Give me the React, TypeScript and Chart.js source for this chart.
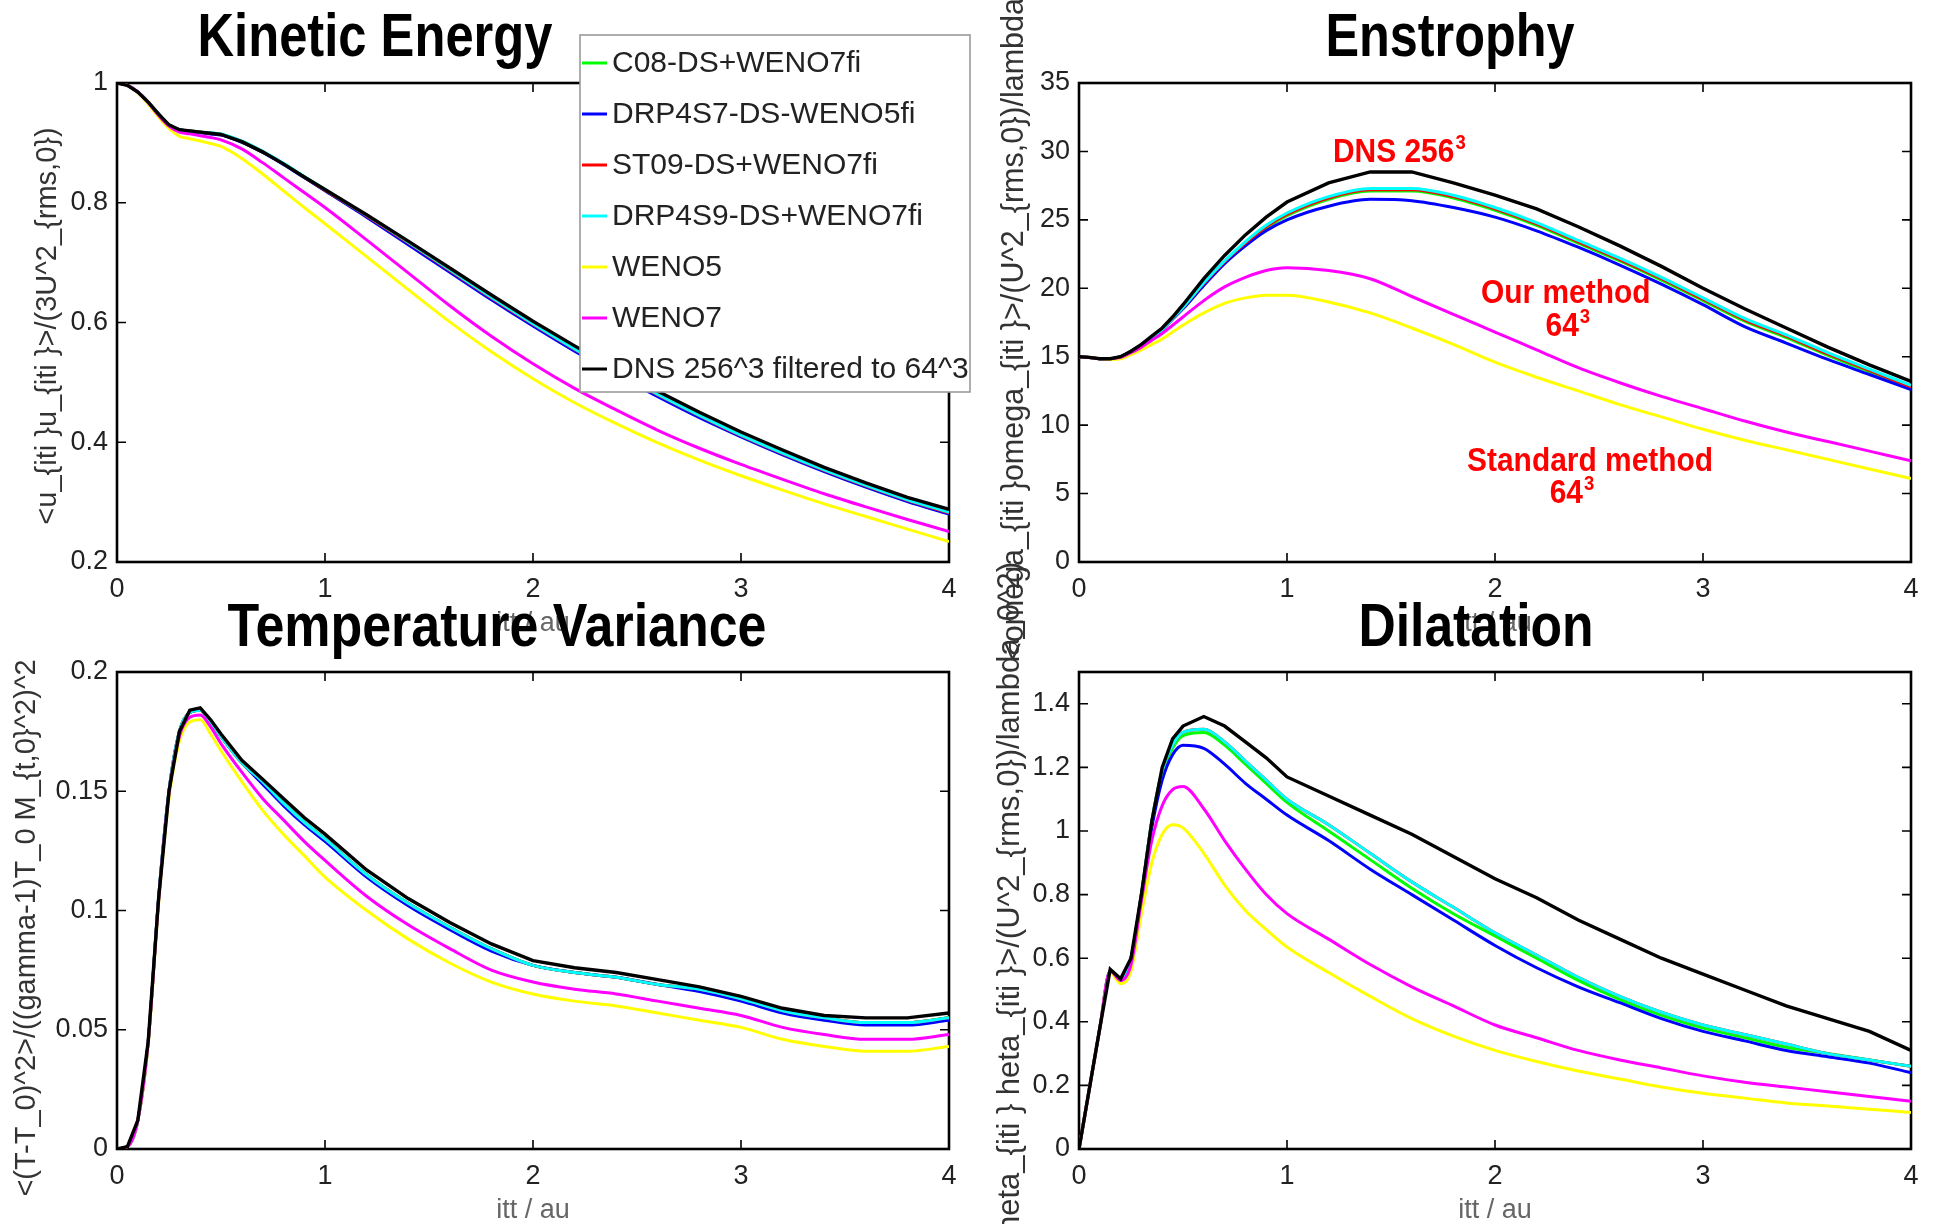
import React, { useEffect, useRef } from "react";
import { Chart, registerables } from "chart.js";

Chart.register(...registerables);

const PAGE_W = 1933;
const PAGE_H = 1224;

// ---------- shared data ----------
const times = [0, 0.05, 0.1, 0.15, 0.2, 0.25, 0.3, 0.35, 0.4, 0.45, 0.5, 0.6, 0.7, 0.8, 0.9, 1.0, 1.2, 1.4, 1.6, 1.8, 2.0, 2.2, 2.4, 2.6, 2.8, 3.0, 3.2, 3.4, 3.6, 3.8, 4.0];
const xTicks = [0, 1, 2, 3, 4];
const seriesNames = ["C08-DS+WENO7fi", "DRP4S7-DS-WENO5fi", "ST09-DS+WENO7fi", "DRP4S9-DS+WENO7fi", "WENO5", "WENO7", "DNS 256^3 filtered to 64^3"];

// ---------- Kinetic energy ----------
const keYTicks = [0.2, 0.4, 0.6, 0.8, 1];
const keC08 = [1.0, 0.996, 0.985, 0.968, 0.948, 0.93, 0.922, 0.92, 0.918, 0.916, 0.914, 0.902, 0.885, 0.865, 0.843, 0.821, 0.777, 0.732, 0.686, 0.64, 0.596, 0.554, 0.515, 0.478, 0.443, 0.41, 0.38, 0.352, 0.326, 0.302, 0.281];
const keDRP7 = [1.0, 0.996, 0.985, 0.968, 0.948, 0.93, 0.922, 0.919, 0.917, 0.915, 0.913, 0.901, 0.884, 0.864, 0.842, 0.82, 0.776, 0.73, 0.684, 0.638, 0.594, 0.552, 0.513, 0.476, 0.441, 0.409, 0.379, 0.351, 0.325, 0.301, 0.28];
const keST09 = [1.0, 0.996, 0.985, 0.968, 0.948, 0.93, 0.922, 0.92, 0.918, 0.916, 0.914, 0.902, 0.885, 0.865, 0.843, 0.821, 0.778, 0.733, 0.687, 0.641, 0.597, 0.555, 0.516, 0.479, 0.444, 0.411, 0.381, 0.353, 0.327, 0.303, 0.282];
const keDRP9 = [1.0, 0.996, 0.985, 0.968, 0.948, 0.93, 0.922, 0.92, 0.918, 0.917, 0.915, 0.903, 0.886, 0.866, 0.844, 0.822, 0.779, 0.734, 0.688, 0.642, 0.598, 0.556, 0.517, 0.48, 0.445, 0.412, 0.382, 0.354, 0.328, 0.304, 0.283];
const keW5 = [1.0, 0.996, 0.984, 0.965, 0.943, 0.924, 0.911, 0.907, 0.903, 0.899, 0.894, 0.874, 0.848, 0.82, 0.792, 0.765, 0.71, 0.655, 0.601, 0.551, 0.506, 0.466, 0.431, 0.399, 0.37, 0.344, 0.32, 0.297, 0.276, 0.255, 0.234];
const keW7 = [1.0, 0.996, 0.985, 0.967, 0.946, 0.928, 0.918, 0.915, 0.912, 0.909, 0.905, 0.89, 0.867, 0.842, 0.817, 0.792, 0.738, 0.683, 0.628, 0.577, 0.531, 0.49, 0.454, 0.42, 0.39, 0.363, 0.338, 0.314, 0.292, 0.271, 0.251];
const keDNS = [1.0, 0.996, 0.985, 0.968, 0.948, 0.93, 0.922, 0.92, 0.918, 0.916, 0.914, 0.902, 0.885, 0.865, 0.843, 0.822, 0.78, 0.736, 0.691, 0.646, 0.602, 0.561, 0.522, 0.485, 0.45, 0.417, 0.387, 0.358, 0.332, 0.308, 0.288];

// ---------- Enstrophy ----------
const enYTicks = [0, 5, 10, 15, 20, 25, 30, 35];
const enC08 = [15.0, 14.95, 14.85, 14.85, 15.0, 15.4, 15.85, 16.4, 17.0, 17.8, 18.6, 20.3, 21.9, 23.2, 24.4, 25.3, 26.5, 27.1, 27.1, 26.6, 25.7, 24.6, 23.3, 22.0, 20.6, 19.1, 17.6, 16.4, 15.1, 13.9, 12.8];
const enDRP7 = [15.0, 14.95, 14.85, 14.85, 15.0, 15.4, 15.85, 16.4, 17.0, 17.75, 18.5, 20.2, 21.8, 23.1, 24.2, 25.0, 26.0, 26.5, 26.4, 25.9, 25.2, 24.2, 23.0, 21.7, 20.3, 18.8, 17.2, 16.0, 14.8, 13.7, 12.6];
const enST09 = [15.0, 14.95, 14.85, 14.85, 15.0, 15.4, 15.85, 16.4, 17.0, 17.8, 18.6, 20.35, 21.95, 23.3, 24.5, 25.4, 26.6, 27.2, 27.2, 26.7, 25.8, 24.7, 23.4, 22.1, 20.7, 19.2, 17.7, 16.5, 15.2, 14.0, 12.8];
const enDRP9 = [15.0, 14.95, 14.85, 14.85, 15.0, 15.4, 15.85, 16.4, 17.0, 17.8, 18.6, 20.4, 22.0, 23.4, 24.6, 25.5, 26.7, 27.3, 27.3, 26.8, 25.9, 24.8, 23.5, 22.2, 20.8, 19.3, 17.8, 16.6, 15.3, 14.1, 12.9];
const enW5 = [15.0, 14.95, 14.85, 14.8, 14.85, 15.15, 15.5, 15.9, 16.3, 16.8, 17.3, 18.2, 18.9, 19.3, 19.5, 19.5, 19.0, 18.2, 17.1, 15.9, 14.6, 13.5, 12.5, 11.5, 10.6, 9.7, 8.9, 8.2, 7.5, 6.8, 6.1];
const enW7 = [15.0, 14.95, 14.85, 14.85, 14.95, 15.3, 15.7, 16.2, 16.7, 17.3, 17.9, 19.1, 20.1, 20.8, 21.3, 21.5, 21.3, 20.7, 19.4, 18.1, 16.8, 15.5, 14.2, 13.1, 12.1, 11.2, 10.3, 9.5, 8.8, 8.1, 7.4];
const enDNS = [15.0, 14.95, 14.85, 14.85, 15.0, 15.4, 15.9, 16.5, 17.1, 17.9, 18.8, 20.7, 22.4, 23.9, 25.2, 26.3, 27.7, 28.5, 28.5, 27.7, 26.8, 25.8, 24.5, 23.1, 21.6, 20.0, 18.5, 17.1, 15.7, 14.4, 13.2];

// ---------- Temperature variance ----------
const tvYTicks = [0, 0.05, 0.1, 0.15, 0.2];
const tvC08 = [0, 0.001, 0.012, 0.045, 0.105, 0.15, 0.175, 0.183, 0.184, 0.179, 0.173, 0.162, 0.154, 0.145, 0.137, 0.13, 0.115, 0.103, 0.093, 0.084, 0.077, 0.074, 0.072, 0.069, 0.067, 0.063, 0.058, 0.055, 0.053, 0.053, 0.055];
const tvDRP7 = [0, 0.001, 0.012, 0.045, 0.105, 0.15, 0.175, 0.183, 0.184, 0.179, 0.173, 0.162, 0.153, 0.144, 0.136, 0.129, 0.114, 0.102, 0.092, 0.083, 0.077, 0.074, 0.072, 0.069, 0.066, 0.062, 0.057, 0.054, 0.052, 0.052, 0.054];
const tvST09 = [0, 0.001, 0.012, 0.045, 0.105, 0.15, 0.175, 0.183, 0.184, 0.179, 0.173, 0.162, 0.154, 0.145, 0.137, 0.13, 0.115, 0.103, 0.093, 0.084, 0.077, 0.074, 0.072, 0.069, 0.067, 0.063, 0.058, 0.055, 0.053, 0.053, 0.055];
const tvDRP9 = [0, 0.001, 0.012, 0.045, 0.105, 0.15, 0.175, 0.183, 0.184, 0.179, 0.173, 0.162, 0.154, 0.145, 0.137, 0.13, 0.115, 0.103, 0.093, 0.084, 0.077, 0.074, 0.072, 0.069, 0.067, 0.063, 0.058, 0.055, 0.053, 0.053, 0.055];
const tvW5 = [0, 0.001, 0.012, 0.044, 0.103, 0.147, 0.171, 0.179, 0.18, 0.174, 0.167, 0.154, 0.142, 0.132, 0.123, 0.114, 0.1, 0.088, 0.078, 0.07, 0.065, 0.062, 0.06, 0.057, 0.054, 0.051, 0.046, 0.043, 0.041, 0.041, 0.043];
const tvW7 = [0, 0.001, 0.012, 0.045, 0.104, 0.149, 0.173, 0.181, 0.182, 0.177, 0.17, 0.158, 0.147, 0.138, 0.129, 0.121, 0.106, 0.094, 0.084, 0.075, 0.07, 0.067, 0.065, 0.062, 0.059, 0.056, 0.051, 0.048, 0.046, 0.046, 0.048];
const tvDNS = [0, 0.001, 0.012, 0.045, 0.105, 0.15, 0.175, 0.184, 0.185, 0.18, 0.174, 0.163, 0.155, 0.147, 0.139, 0.132, 0.117, 0.105, 0.095, 0.086, 0.079, 0.076, 0.074, 0.071, 0.068, 0.064, 0.059, 0.056, 0.055, 0.055, 0.057];

// ---------- Dilatation ----------
const dlYTicks = [0, 0.2, 0.4, 0.6, 0.8, 1, 1.2, 1.4];
const dlC08 = [0, 0.19, 0.38, 0.56, 0.53, 0.6, 0.8, 1.03, 1.18, 1.26, 1.3, 1.31, 1.27, 1.21, 1.15, 1.09, 1.0, 0.91, 0.82, 0.74, 0.67, 0.6, 0.53, 0.47, 0.42, 0.38, 0.35, 0.32, 0.3, 0.28, 0.26];
const dlDRP7 = [0, 0.19, 0.38, 0.56, 0.53, 0.6, 0.8, 1.01, 1.16, 1.24, 1.27, 1.26, 1.21, 1.15, 1.1, 1.05, 0.97, 0.88, 0.8, 0.72, 0.64, 0.57, 0.51, 0.46, 0.41, 0.37, 0.34, 0.31, 0.29, 0.27, 0.24];
const dlST09 = [0, 0.19, 0.38, 0.56, 0.53, 0.6, 0.8, 1.03, 1.19, 1.27, 1.31, 1.32, 1.28, 1.22, 1.16, 1.1, 1.02, 0.93, 0.84, 0.76, 0.68, 0.61, 0.54, 0.48, 0.43, 0.39, 0.36, 0.33, 0.3, 0.28, 0.26];
const dlDRP9 = [0, 0.19, 0.38, 0.56, 0.53, 0.6, 0.8, 1.03, 1.19, 1.27, 1.31, 1.32, 1.28, 1.22, 1.16, 1.1, 1.02, 0.93, 0.84, 0.76, 0.68, 0.61, 0.54, 0.48, 0.43, 0.39, 0.36, 0.33, 0.3, 0.28, 0.26];
const dlW5 = [0, 0.19, 0.38, 0.555, 0.52, 0.56, 0.74, 0.9, 0.99, 1.02, 1.01, 0.93, 0.83, 0.75, 0.69, 0.635, 0.555, 0.48, 0.41, 0.355, 0.31, 0.275, 0.245, 0.22, 0.195, 0.175, 0.16, 0.145, 0.135, 0.125, 0.115];
const dlW7 = [0, 0.19, 0.38, 0.56, 0.53, 0.58, 0.78, 0.97, 1.08, 1.13, 1.14, 1.07, 0.97, 0.88, 0.8, 0.74, 0.66, 0.58, 0.51, 0.45, 0.39, 0.35, 0.31, 0.28, 0.255, 0.23, 0.21, 0.195, 0.18, 0.165, 0.15];
const dlDNS = [0, 0.19, 0.38, 0.565, 0.535, 0.6, 0.8, 1.03, 1.2, 1.29, 1.33, 1.36, 1.33, 1.28, 1.23, 1.17, 1.11, 1.05, 0.99, 0.92, 0.85, 0.79, 0.72, 0.66, 0.6, 0.55, 0.5, 0.45, 0.41, 0.37, 0.31];

// ---------- styles ----------
const seriesColors = ["#00ff00", "#0000ff", "#ff0000", "#00ffff", "#ffff00", "#ff00ff", "#000000"];
const FONT = '"Liberation Sans", Arial, Helvetica, sans-serif';
const Y_AXIS_W = 80;
const X_AXIS_H = 60;
const TICK_LEN = 9;

type Annot = { base: string; sup?: string; t: number; v: number };

type Panel = {
  key: string;
  title: string;
  titleAt: [number, number, number];
  box: [number, number, number, number];
  yMin: number;
  yMax: number;
  yTicks: number[];
  series: number[][];
  yLabel: string;
  yLabelAt: [number, number, CanvasTextAlign, number];
  legend?: boolean;
  annots?: Annot[];
};

const panels: Panel[] = [
  {
    key: "ke",
    title: "Kinetic Energy",
    titleAt: [375, 56, 355],
    box: [117, 83, 949, 562],
    yMin: 0.2,
    yMax: 1,
    yTicks: keYTicks,
    series: [keC08, keDRP7, keST09, keDRP9, keW5, keW7, keDNS],
    yLabel: "<u_{iti }u_{iti }>/(3U^2_{rms,0})",
    yLabelAt: [48, 326, "center", 29],
    legend: true,
  },
  {
    key: "en",
    title: "Enstrophy",
    titleAt: [1450, 56, 249],
    box: [1079, 83, 1911, 562],
    yMin: 0,
    yMax: 35,
    yTicks: enYTicks,
    series: [enC08, enDRP7, enST09, enDRP9, enW5, enW7, enDNS],
    yLabel: "<omega_{iti }omega_{iti }>/(U^2_{rms,0})/lambda_0^2)",
    yLabelAt: [1015, 660, "left", 30.5],
    annots: [
      { base: "DNS 256", sup: "3", t: 1.54, v: 29.26 },
      { base: "Our method", t: 2.34, v: 18.9 },
      { base: "64", sup: "3", t: 2.35, v: 16.5 },
      { base: "Standard method", t: 2.457, v: 6.65 },
      { base: "64", sup: "3", t: 2.37, v: 4.31 },
    ],
  },
  {
    key: "tv",
    title: "Temperature Variance",
    titleAt: [497, 646, 539],
    box: [117, 672, 949, 1149],
    yMin: 0,
    yMax: 0.2,
    yTicks: tvYTicks,
    series: [tvC08, tvDRP7, tvST09, tvDRP9, tvW5, tvW7, tvDNS],
    yLabel: "<(T-T_0)^2>/((gamma-1)T_0 M_{t,0}^2)^2",
    yLabelAt: [27, 928, "center", 29],
  },
  {
    key: "dl",
    title: "Dilatation",
    titleAt: [1476, 646, 235],
    box: [1079, 672, 1911, 1149],
    yMin: 0,
    yMax: 1.5,
    yTicks: dlYTicks,
    series: [dlC08, dlDRP7, dlST09, dlDRP9, dlW5, dlW7, dlDNS],
    yLabel: "heta_{iti } heta_{iti }>/(U^2_{rms,0})/lambda_0^2)",
    yLabelAt: [1010, 562, "right", 31],
  },
];

function vText(ctx: CanvasRenderingContext2D, text: string, x: number, y: number, align: CanvasTextAlign) {
  ctx.save();
  ctx.translate(x, y);
  ctx.rotate(-Math.PI / 2);
  ctx.textAlign = align;
  ctx.textBaseline = "middle";
  ctx.fillText(text, 0, 0);
  ctx.restore();
}

// draw condensed bold text: width squeezed horizontally by factor sx, anchored at left x0
function squeezed(ctx: CanvasRenderingContext2D, text: string, x0: number, y: number, sx: number) {
  ctx.save();
  ctx.translate(x0, y);
  ctx.scale(sx, 1);
  ctx.textAlign = "left";
  ctx.fillText(text, 0, 0);
  ctx.restore();
}

function makeDecor(p: Panel) {
  return {
    id: "decor_" + p.key,
    beforeDatasetsDraw(chart: any) {
      const { ctx, chartArea: a, scales } = chart;
      const xs = scales.x;
      const ys = scales.y;
      ctx.save();
      ctx.strokeStyle = "#000";
      ctx.lineWidth = 1.6;
      ctx.beginPath();
      xs.ticks.forEach((tk: any) => {
        const px = xs.getPixelForValue(tk.value);
        ctx.moveTo(px, a.bottom);
        ctx.lineTo(px, a.bottom - TICK_LEN);
        ctx.moveTo(px, a.top);
        ctx.lineTo(px, a.top + TICK_LEN);
      });
      ys.ticks.forEach((tk: any) => {
        const py = ys.getPixelForValue(tk.value);
        ctx.moveTo(a.left, py);
        ctx.lineTo(a.left + TICK_LEN, py);
        ctx.moveTo(a.right, py);
        ctx.lineTo(a.right - TICK_LEN, py);
      });
      ctx.stroke();
      ctx.lineWidth = 2.6;
      ctx.strokeRect(a.left, a.top, a.right - a.left, a.bottom - a.top);
      ctx.restore();
    },
    afterDraw(chart: any) {
      const { ctx, chartArea: a, scales } = chart;
      ctx.save();
      // axis titles
      ctx.fillStyle = "#666";
      ctx.font = `27px ${FONT}`;
      ctx.textAlign = "center";
      ctx.textBaseline = "middle";
      ctx.fillText("itt / au", (a.left + a.right) / 2, a.bottom + 62);
      ctx.fillStyle = "#333";
      ctx.font = `${p.yLabelAt[3]}px ${FONT}`;
      vText(ctx, p.yLabel, p.yLabelAt[0], p.yLabelAt[1], p.yLabelAt[2]);

      // annotations
      if (p.annots) {
        ctx.fillStyle = "#ff0000";
        ctx.textBaseline = "alphabetic";
        const big = 34;
        const small = 21;
        const sx = 0.88;
        p.annots.forEach((an) => {
          const cx = scales.x.getPixelForValue(an.t);
          const by = scales.y.getPixelForValue(an.v);
          ctx.font = `bold ${big}px ${FONT}`;
          const wb = ctx.measureText(an.base).width * sx;
          let ws = 0;
          if (an.sup) {
            ctx.font = `bold ${small}px ${FONT}`;
            ws = ctx.measureText(an.sup).width * sx + 1;
          }
          const x0 = cx - (wb + ws) / 2;
          ctx.font = `bold ${big}px ${FONT}`;
          squeezed(ctx, an.base, x0, by, sx);
          if (an.sup) {
            ctx.font = `bold ${small}px ${FONT}`;
            squeezed(ctx, an.sup, x0 + wb + 1, by - big * 0.38, sx);
          }
        });
      }

      // panel title
      ctx.fillStyle = "#000";
      ctx.font = `bold 62px ${FONT}`;
      ctx.textBaseline = "alphabetic";
      const tw = ctx.measureText(p.title).width;
      const tsx = p.titleAt[2] / tw;
      squeezed(ctx, p.title, p.titleAt[0] - p.titleAt[2] / 2, p.titleAt[1], tsx);

      // legend
      if (p.legend) {
        const lx = 580, ly = 35, lw = 390, lh = 357;
        ctx.fillStyle = "#fff";
        ctx.fillRect(lx, ly, lw, lh);
        ctx.strokeStyle = "#9a9a9a";
        ctx.lineWidth = 1.6;
        ctx.strokeRect(lx, ly, lw, lh);
        ctx.font = `30px ${FONT}`;
        ctx.textAlign = "left";
        ctx.textBaseline = "middle";
        chart.data.datasets.forEach((ds: any, i: number) => {
          const yy = 63 + i * 51;
          ctx.strokeStyle = ds.borderColor;
          ctx.lineWidth = 3;
          ctx.beginPath();
          ctx.moveTo(582, yy);
          ctx.lineTo(607, yy);
          ctx.stroke();
          ctx.fillStyle = "#222";
          ctx.fillText(ds.label, 612, yy + 1);
        });
      }
      ctx.restore();
    },
  };
}

function buildConfig(p: Panel): any {
  const [l, t, r, b] = p.box;
  return {
    type: "line",
    data: {
      datasets: p.series.map((vals, i) => ({
        label: seriesNames[i],
        data: times.map((tt, k) => ({ x: tt, y: vals[k] })),
        borderColor: seriesColors[i],
        backgroundColor: seriesColors[i],
        borderWidth: i === 6 ? 3.4 : 3,
        pointRadius: 0,
        fill: false,
        tension: 0,
        cubicInterpolationMode: i === 6 ? "default" : "monotone",
        order: 7 - i,
      })),
    },
    options: {
      responsive: false,
      animation: false,
      events: [],
      layout: { padding: { left: l - Y_AXIS_W, top: t, right: PAGE_W - r, bottom: PAGE_H - b - X_AXIS_H } },
      plugins: { legend: { display: false }, tooltip: { enabled: false }, title: { display: false } },
      scales: {
        x: {
          type: "linear",
          min: 0,
          max: 4,
          afterBuildTicks: (s: any) => {
            s.ticks = xTicks.map((v) => ({ value: v }));
          },
          afterFit: (s: any) => {
            s.height = X_AXIS_H;
          },
          grid: { display: false, drawTicks: false },
          border: { display: false },
          ticks: {
            padding: 11,
            color: "#222",
            font: { family: FONT, size: 27 },
            maxRotation: 0,
            autoSkip: false,
            callback: (v: any) => String(v),
          },
        },
        y: {
          type: "linear",
          min: p.yMin,
          max: p.yMax,
          afterBuildTicks: (s: any) => {
            s.ticks = p.yTicks.map((v) => ({ value: v }));
          },
          afterFit: (s: any) => {
            s.width = Y_AXIS_W;
          },
          grid: { display: false, drawTicks: false },
          border: { display: false },
          ticks: {
            padding: 9,
            color: "#222",
            font: { family: FONT, size: 27 },
            autoSkip: false,
            callback: (v: any) => String(v),
          },
        },
      },
    },
    plugins: [makeDecor(p)],
  };
}

function PanelCanvas({ p }: { p: Panel }) {
  const ref = useRef<HTMLCanvasElement | null>(null);
  useEffect(() => {
    if (!ref.current) return;
    const chart = new Chart(ref.current, buildConfig(p));
    return () => chart.destroy();
  }, [p]);
  return (
    <canvas
      ref={ref}
      width={PAGE_W}
      height={PAGE_H}
      style={{ position: "absolute", left: 0, top: 0, width: PAGE_W, height: PAGE_H }}
    />
  );
}

export default function App() {
  useEffect(() => {
    document.body.style.margin = "0";
    document.body.style.overflow = "hidden";
    document.body.style.background = "#fff";
  }, []);
  return (
    <div style={{ position: "absolute", left: 0, top: 0, width: PAGE_W, height: PAGE_H, background: "#fff", overflow: "hidden" }}>
      {panels.map((p) => (
        <PanelCanvas key={p.key} p={p} />
      ))}
    </div>
  );
}
